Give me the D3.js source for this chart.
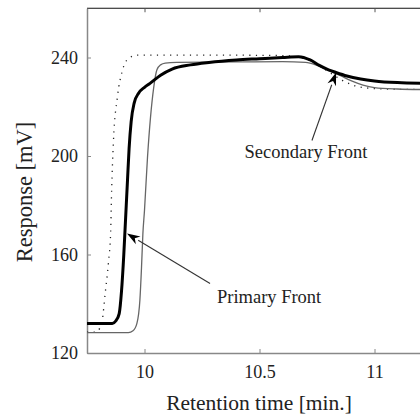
<!DOCTYPE html>
<html>
<head>
<meta charset="utf-8">
<script src="https://cdn.jsdelivr.net/npm/d3@7"></script>
<style>
  body { margin: 0; background: #fff; }
</style>
</head>
<body>
<div id="chart"></div>
<script>
// retention time [min.] vs response [mV]
const thickX = [9.75, 9.86, 9.875, 9.89, 9.9, 9.91, 9.918, 9.926, 9.933, 9.942, 9.955, 9.975, 10.0, 10.024, 10.07, 10.12, 10.2, 10.28, 10.4, 10.5, 10.6, 10.67, 10.72, 10.76, 10.8, 10.83, 10.88, 10.94, 11.0, 11.1, 11.2];
const thickY = [132, 132, 133, 136, 145, 160, 175, 190, 203, 214, 221.5, 225.6, 227.9, 229.5, 232.8, 235.3, 237, 238, 239, 239.5, 240, 240.3, 239, 236.8, 235, 234, 232.5, 231.3, 230.5, 229.8, 229.5];

const grayX = [9.75, 9.93, 9.95, 9.967, 9.98, 9.987, 9.993, 10.0, 10.013, 10.026, 10.04, 10.054, 10.07, 10.09, 10.14, 10.4, 10.6, 10.7, 10.75, 10.8, 10.85, 10.9, 10.95, 11.0, 11.1, 11.2];
const grayY = [128.3, 128.3, 129, 132, 141.5, 154.7, 168.5, 178, 199.4, 215.6, 227.8, 235, 237, 237.7, 238, 238.2, 238.3, 238, 236.8, 234.8, 232.7, 230.5, 228.8, 227.8, 227.2, 227];

const dotX = [9.75, 9.79, 9.805, 9.815, 9.83, 9.843, 9.853, 9.856, 9.865, 9.882, 9.904, 9.93, 9.97, 10.2, 10.6, 10.7, 10.77, 10.82, 10.86, 10.95, 11.05, 11.2];
const dotY = [128.5, 128.5, 130, 132.4, 145, 156.4, 169.4, 182, 206, 223.8, 234.7, 239.6, 241, 241, 240.8, 239.5, 236, 233, 230.7, 227.8, 227.2, 227];

const xTicks = [10, 10.5, 11];
const yTicks = [120, 160, 200, 240];

const noteLabels = ["Primary Front", "Secondary Front"];
const noteTextX = [10.315, 10.702];
const noteTextY = [140.5, 199];
const noteTailX = [10.285, 10.728];
const noteTailY = [148.2, 206.3];
const noteTipX = [9.924, 10.833];
const noteTipY = [168.5, 233.9];

const W = 420, H = 414;
const FONT = '"Liberation Serif", "Times New Roman", "DejaVu Serif", serif';
const svg = d3.select('#chart').append('svg').attr('width', W).attr('height', H)
  .attr('font-family', FONT);

const x = d3.scaleLinear().domain([9.75, 11.2]).range([87, 420.5]);
const y = d3.scaleLinear().domain([120, 260]).range([353, 8.25]);

const line = d3.line()
  .curve(d3.curveMonotoneX)
  .x(d => x(d[0]))
  .y(d => y(d[1]));

const zip = (a, b) => a.map((v, i) => [v, b[i]]);

// frame: top border, left and bottom axes
svg.append('line').attr('x1', x(9.75)).attr('x2', W).attr('y1', y(260)).attr('y2', y(260))
  .attr('stroke', '#111').attr('stroke-width', 1.2);

const xAxis = svg.append('g')
  .attr('transform', `translate(0,${y(120)})`)
  .call(d3.axisBottom(x).tickValues(xTicks).tickSizeInner(-4).tickSizeOuter(0).tickPadding(12).tickFormat(d3.format('')));
const xTop = svg.append('g')
  .attr('transform', `translate(0,${y(260)})`)
  .call(d3.axisTop(x).tickValues(xTicks).tickSizeInner(-4).tickSizeOuter(0).tickFormat(''));
const yAxis = svg.append('g')
  .attr('transform', `translate(${x(9.75)},0)`)
  .call(d3.axisLeft(y).tickValues(yTicks).tickSizeInner(-4).tickSizeOuter(0).tickPadding(9));

[xAxis, yAxis].forEach(g => {
  g.attr('font-family', FONT).attr('font-size', 18);
  g.select('.domain').attr('stroke', '#888').attr('stroke-width', 1.5);
  g.selectAll('.tick line').attr('stroke', '#888');
  g.selectAll('.tick text').attr('fill', '#222');
});
xTop.select('.domain').remove();
xTop.selectAll('.tick line').attr('stroke', '#555');

// series
svg.append('path').datum(zip(dotX, dotY))
  .attr('d', line).attr('fill', 'none').attr('stroke', '#222')
  .attr('stroke-width', 1.3).attr('stroke-dasharray', '1.2,5.4');
svg.append('path').datum(zip(grayX, grayY))
  .attr('d', line).attr('fill', 'none').attr('stroke', '#666').attr('stroke-width', 1.3);
svg.append('path').datum(zip(thickX, thickY))
  .attr('d', line).attr('fill', 'none').attr('stroke', '#000').attr('stroke-width', 3);

// annotations
noteLabels.forEach((lab, i) => {
  const x0 = x(noteTailX[i]), y0 = y(noteTailY[i]);
  const x1 = x(noteTipX[i]), y1 = y(noteTipY[i]);
  const ang = Math.atan2(y1 - y0, x1 - x0);
  const len = 13, half = 4.5;
  const bx = x1 - len * Math.cos(ang), by = y1 - len * Math.sin(ang);
  svg.append('line').attr('x1', x0).attr('y1', y0).attr('x2', bx).attr('y2', by)
    .attr('stroke', '#333').attr('stroke-width', 1.1);
  const nx = -Math.sin(ang), ny = Math.cos(ang);
  const notch = 0.7;
  svg.append('path')
    .attr('d', `M${x1},${y1} L${bx + nx * half},${by + ny * half} L${x1 - len * notch * Math.cos(ang)},${y1 - len * notch * Math.sin(ang)} L${bx - nx * half},${by - ny * half} Z`)
    .attr('fill', '#000');
  svg.append('text')
    .attr('x', x(noteTextX[i])).attr('y', y(noteTextY[i]))
    .attr('text-anchor', i === 0 ? 'start' : 'middle')
    .attr('font-size', 18.5).attr('fill', '#222')
    .text(lab);
});

// axis titles
svg.append('text')
  .attr('x', 259).attr('y', 410)
  .attr('text-anchor', 'middle').attr('font-size', 21.5).attr('fill', '#222')
  .text('Retention time [min.]');
svg.append('text')
  .attr('transform', 'translate(32,192) rotate(-90)')
  .attr('text-anchor', 'middle').attr('font-size', 22.5).attr('fill', '#222')
  .text('Response [mV]');
</script>
</body>
</html>
